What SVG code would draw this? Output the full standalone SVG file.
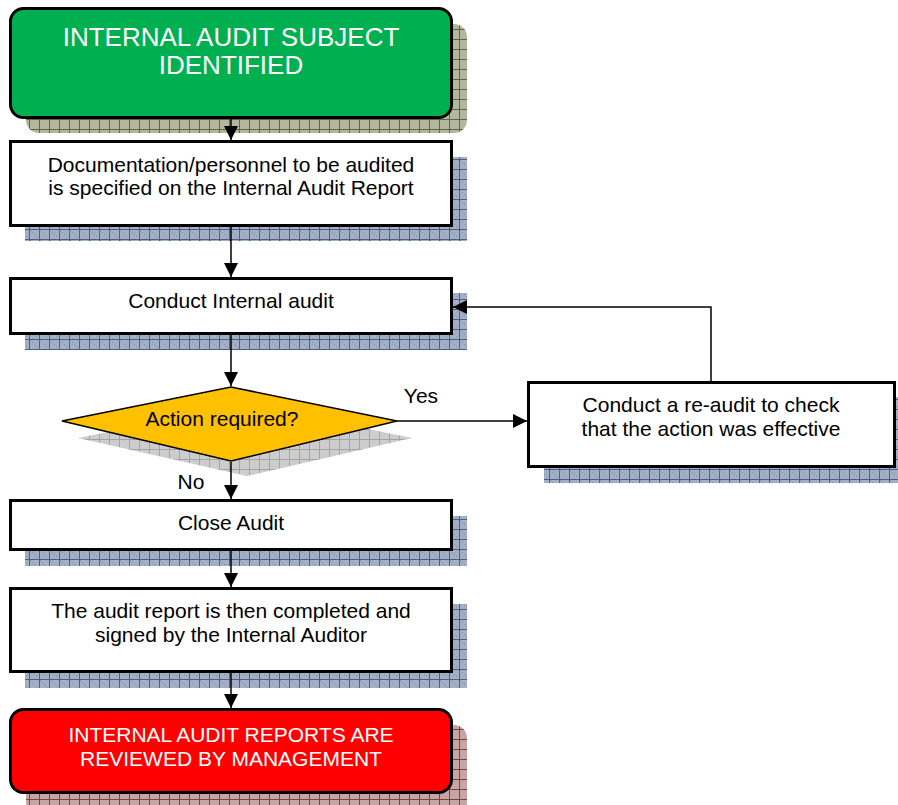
<svg xmlns="http://www.w3.org/2000/svg" width="898" height="805" viewBox="0 0 898 805">
<defs>
<pattern id="pBlue" width="10" height="10" patternUnits="userSpaceOnUse">
<rect width="10" height="10" fill="#a3afc4"/>
<rect x="0" y="0" width="1" height="1" fill="#7f8eaa"/><rect x="2" y="2" width="1" height="1" fill="#7f8eaa"/><rect x="4" y="4" width="1" height="1" fill="#7f8eaa"/><rect x="6" y="6" width="1" height="1" fill="#7f8eaa"/>
<path d="M0 9.5H10M9.5 0V10" stroke="#4d5f82" stroke-width="1"/>
</pattern>
<pattern id="pOlive" width="10" height="10" patternUnits="userSpaceOnUse">
<rect width="10" height="10" fill="#b3b79d"/>
<path d="M0 9.5H10M9.5 0V10" stroke="#5f6645" stroke-width="1"/>
</pattern>
<pattern id="pRed" width="10" height="10" patternUnits="userSpaceOnUse">
<rect width="10" height="10" fill="#c7a5a5"/>
<path d="M0 9.5H10M9.5 0V10" stroke="#7d4444" stroke-width="1"/>
</pattern>
<pattern id="pGrey" width="10" height="10" patternUnits="userSpaceOnUse">
<rect width="10" height="10" fill="#cdcdcd"/>
<path d="M0 9.5H10M9.5 0V10" stroke="#a4a4a4" stroke-width="1"/>
</pattern>
<marker id="ah" viewBox="0 0 10 10" refX="10" refY="5" markerWidth="14" markerHeight="14" markerUnits="userSpaceOnUse" orient="auto">
<path d="M0 0L10 5L0 10Z" fill="#000"/>
</marker>
</defs>
<style>
.box{fill:#fff;stroke:#000;stroke-width:3}
.t{font-family:"Liberation Sans",Arial,sans-serif;font-size:21px;fill:#000;text-anchor:middle}
.tw{font-family:"Liberation Sans",Arial,sans-serif;fill:#fff;text-anchor:middle}
.c{fill:none;stroke:#000;stroke-width:1.5}
</style>

<g id="n1">
<rect x="26" y="24" width="441" height="109" rx="13" fill="url(#pOlive)"/>
<rect x="10.5" y="8.5" width="441" height="109" rx="13" fill="#00b050" stroke="#000" stroke-width="3"/>
<text class="tw" x="231" y="46" font-size="26">INTERNAL AUDIT SUBJECT</text>
<text class="tw" x="231" y="74" font-size="26">IDENTIFIED</text>
</g>

<g id="n2">
<rect x="25" y="157" width="442" height="84" fill="url(#pBlue)"/>
<rect class="box" x="10.5" y="141.5" width="441" height="84"/>
<text class="t" x="231" y="172">Documentation/personnel to be audited</text>
<text class="t" x="231" y="195">is specified on the Internal Audit Report</text>
</g>

<g id="n3">
<rect x="25" y="293" width="442" height="57" fill="url(#pBlue)"/>
<rect class="box" x="10.5" y="278.5" width="441" height="55"/>
<text class="t" x="231" y="308">Conduct Internal audit</text>
</g>

<g id="n4">
<polygon points="78,438 247,404 412,438 247,476" fill="url(#pGrey)"/>
<polygon points="62,421 231,387 397,421 231,461" fill="#ffc000" stroke="#000" stroke-width="1.5"/>
<text class="t" x="222" y="426">Action required?</text>
</g>

<g id="n5">
<rect x="544" y="397" width="354" height="86" fill="url(#pBlue)"/>
<rect class="box" x="528.5" y="382.5" width="366" height="84"/>
<text class="t" x="711" y="412">Conduct a re-audit to check</text>
<text class="t" x="711" y="436">that the action was effective</text>
</g>

<g id="n6">
<rect x="25" y="516" width="442" height="50" fill="url(#pBlue)"/>
<rect class="box" x="10.5" y="500.5" width="441" height="49"/>
<text class="t" x="231" y="530">Close Audit</text>
</g>

<g id="n7">
<rect x="25" y="604" width="442" height="84" fill="url(#pBlue)"/>
<rect class="box" x="10.5" y="588.5" width="441" height="83"/>
<text class="t" x="231" y="618">The audit report is then completed and</text>
<text class="t" x="231" y="642">signed by the Internal Auditor</text>
</g>

<g id="n8">
<rect x="26" y="725" width="441" height="90" rx="13" fill="url(#pRed)"/>
<rect x="10.5" y="709.5" width="441" height="83" rx="13" fill="#ff0000" stroke="#000" stroke-width="3"/>
<text class="tw" x="231" y="742" font-size="21">INTERNAL AUDIT REPORTS ARE</text>
<text class="tw" x="231" y="766" font-size="21">REVIEWED BY MANAGEMENT</text>
</g>

<g id="connectors">
<line class="c" x1="231" y1="119" x2="231" y2="140" marker-end="url(#ah)"/>
<line class="c" x1="231" y1="227" x2="231" y2="277" marker-end="url(#ah)"/>
<line class="c" x1="231" y1="335" x2="231" y2="386" marker-end="url(#ah)"/>
<line class="c" x1="231" y1="462" x2="231" y2="499" marker-end="url(#ah)"/>
<line class="c" x1="231" y1="551" x2="231" y2="587" marker-end="url(#ah)"/>
<line class="c" x1="231" y1="673" x2="231" y2="708" marker-end="url(#ah)"/>
<line class="c" x1="397" y1="421" x2="527" y2="421" marker-end="url(#ah)"/>
<polyline class="c" points="711,381 711,307 453,307" marker-end="url(#ah)"/>
<text class="t" x="421" y="403">Yes</text>
<text class="t" x="191" y="489">No</text>
</g>
</svg>
